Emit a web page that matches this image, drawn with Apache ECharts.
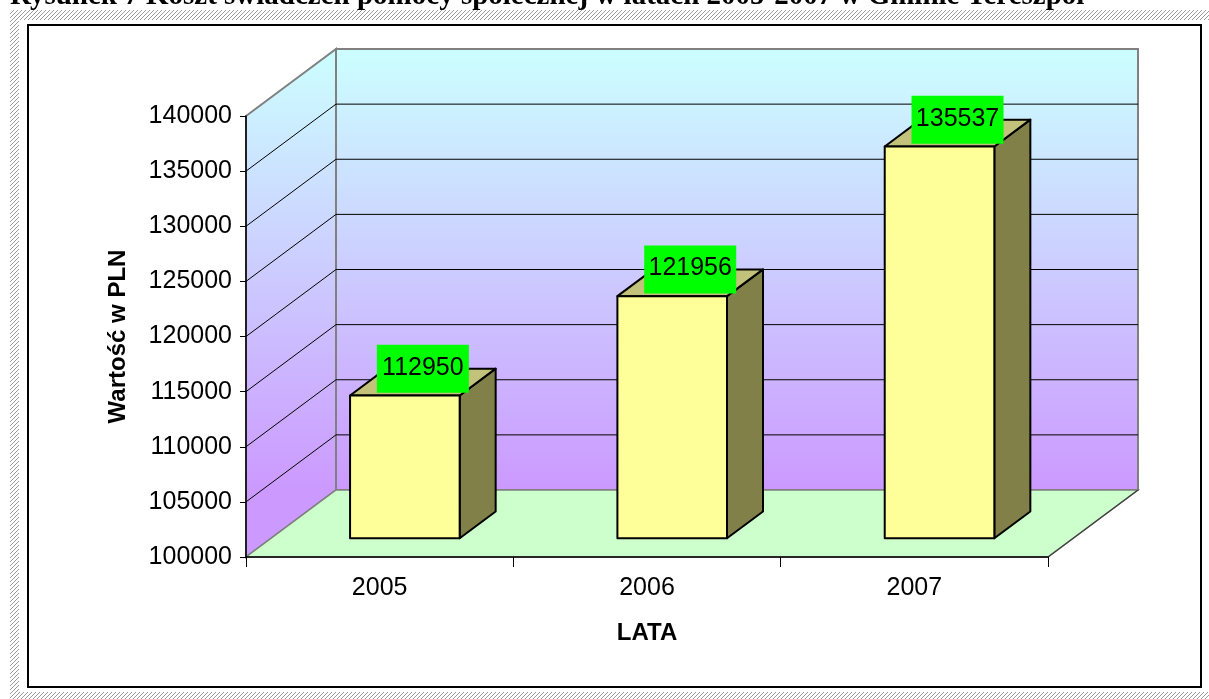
<!DOCTYPE html>
<html>
<head>
<meta charset="utf-8">
<script src="https://cdn.jsdelivr.net/npm/echarts@6/dist/echarts.min.js"></script>
<style>
html, body { margin: 0; padding: 0; background: #fff; }
#main { width: 1209px; height: 699px; }
</style>
</head>
<body>
<div id="main"></div>
<script>
// dane
var lata = ["2005", "2006", "2007"];
var wartosci = [112950, 121956, 135537];
var yMin = 100000, yMax = 140000, yKrok = 5000;
var tytul = "Rysunek 7 Koszt świadczeń pomocy społecznej w latach 2005-2007 w Gminie Tereszpol";

// wyglad 3D
var GLEB = [90, -67];          // przesuniecie tylnej sciany
var BAR_OD = 0.28;             // polozenie przedniej sciany slupka (czesc glebi)
var BAR_GL = 0.4;              // glebokosc slupka (czesc glebi)
var FONT = "Liberation Sans, Arial, sans-serif";

var myChart = echarts.init(document.getElementById("main"));

// wzor kreskowania ramki
var wzor = document.createElement("canvas");
wzor.width = 4; wzor.height = 4;
var c = wzor.getContext("2d");
c.fillStyle = "#fff"; c.fillRect(0, 0, 4, 4);
c.fillStyle = "#9a9a9a";
c.fillRect(3, 0, 1, 1); c.fillRect(2, 1, 1, 1); c.fillRect(1, 2, 1, 1); c.fillRect(0, 3, 1, 1);

function renderSciany(params, api) {
  var cs = params.coordSys;
  var x0 = cs.x, x1 = cs.x + cs.width, yt = cs.y, y0 = cs.y + cs.height;
  var dx = GLEB[0], dy = GLEB[1];
  var grad = new echarts.graphic.LinearGradient(0, 0, 0, 1, [
    { offset: 0, color: "#ccffff" },
    { offset: 1, color: "#cc99ff" }
  ]);
  var grad2 = new echarts.graphic.LinearGradient(0, 0, 0, 1, [
    { offset: 0, color: "#ccffff" },
    { offset: 0.87, color: "#cc99ff" },
    { offset: 1, color: "#cc99ff" }
  ]);
  var ch = [];
  // tylna sciana
  ch.push({ type: "polygon", shape: { points: [[x0 + dx, yt + dy], [x1 + dx, yt + dy], [x1 + dx, y0 + dy], [x0 + dx, y0 + dy]] },
    style: { fill: grad, stroke: "#808080", lineWidth: 2 } });
  // boczna sciana
  ch.push({ type: "polygon", shape: { points: [[x0, yt], [x0 + dx, yt + dy], [x0 + dx, y0 + dy], [x0, y0]] },
    style: { fill: grad2, stroke: "#808080", lineWidth: 2 } });
  // podloga
  ch.push({ type: "polygon", shape: { points: [[x0, y0], [x0 + dx, y0 + dy], [x1 + dx, y0 + dy], [x1, y0]] },
    style: { fill: "#ccffcc", stroke: "#808080", lineWidth: 1.5 } });
  ch.push({ type: "line", shape: { x1: x1, y1: y0, x2: x1 + dx, y2: y0 + dy }, style: { stroke: "#404040", lineWidth: 1.2 } });
  // linie siatki
  for (var v = yMin + yKrok; v < yMax; v += yKrok) {
    var y = api.coord([0, v])[1];
    ch.push({ type: "line", shape: { x1: x0, y1: y, x2: x0 + dx, y2: y + dy }, style: { stroke: "#000", lineWidth: 1 } });
    ch.push({ type: "line", shape: { x1: x0 + dx, y1: y + dy, x2: x1 + dx, y2: y + dy }, style: { stroke: "#000", lineWidth: 1 } });
  }
  return { type: "group", children: ch };
}

function renderSlupek(params, api) {
  var i = api.value(0), v = api.value(1);
  var top = api.coord([i, v]), base = api.coord([i, yMin]);
  var band = api.size([1, 0])[0];
  var w = band * 0.41;
  var ox = GLEB[0] * BAR_OD, oy = GLEB[1] * BAR_OD;
  var gx = GLEB[0] * BAR_GL, gy = GLEB[1] * BAR_GL;
  var xl = top[0] - w / 2 + ox, xr = xl + w, yt = top[1] + oy, yb = base[1] + oy;
  var st = { stroke: "#000", lineWidth: 2, lineJoin: "round" };
  var lx = xl + w / 2 + gx / 2, ly = yt + gy;
  return {
    type: "group",
    children: [
      { type: "polygon", shape: { points: [[xr, yt], [xr + gx, yt + gy], [xr + gx, yb + gy], [xr, yb]] },
        style: Object.assign({ fill: "#808048" }, st) },
      { type: "polygon", shape: { points: [[xl, yt], [xl + gx, yt + gy], [xr + gx, yt + gy], [xr, yt]] },
        style: Object.assign({ fill: "#c2c27a" }, st) },
      { type: "rect", shape: { x: xl, y: yt, width: w, height: yb - yt },
        style: Object.assign({ fill: "#ffff99" }, st) },
      { type: "rect", shape: { x: lx - 46, y: ly - 24, width: 92, height: 48 },
        style: { fill: "#00ff00" } },
      { type: "text", x: lx, y: ly - 1,
        style: { text: String(v), fill: "#000", font: "25px " + FONT, align: "center", verticalAlign: "middle" } }
    ]
  };
}

var option = {
  animation: false,
  backgroundColor: "#fff",
  grid: { left: 246, top: 116, width: 802, height: 441, containLabel: false },
  xAxis: {
    type: "category",
    data: lata,
    z: 5,
    axisLine: { show: true, lineStyle: { color: "#000", width: 1.5 } },
    axisTick: { show: true, length: 10, lineStyle: { color: "#000", width: 1 } },
    axisLabel: { color: "#000", fontSize: 25, fontFamily: FONT, margin: 19 },
    name: "LATA",
    nameLocation: "middle",
    nameGap: 64,
    nameTextStyle: { color: "#000", fontSize: 24, fontWeight: "bold", fontFamily: FONT }
  },
  yAxis: {
    type: "value",
    min: yMin,
    max: yMax,
    interval: yKrok,
    z: 5,
    splitLine: { show: false },
    axisLine: { show: true, lineStyle: { color: "#000", width: 1.5 } },
    axisTick: { show: true, length: 6, lineStyle: { color: "#000", width: 1 } },
    axisLabel: { color: "#000", fontSize: 25, fontFamily: FONT, margin: 14,
      formatter: function (v) { return String(v); } },
    name: "Wartość w PLN",
    nameLocation: "middle",
    nameGap: 116,
    nameTextStyle: { color: "#000", fontSize: 24, fontWeight: "bold", fontFamily: FONT }
  },
  graphic: [
    { type: "rect", silent: true, z: -10, shape: { x: 10, y: 10, width: 1199, height: 10 }, style: { fill: { image: wzor, repeat: "repeat" } } },
    { type: "rect", silent: true, z: -10, shape: { x: 10, y: 10, width: 9, height: 689 }, style: { fill: { image: wzor, repeat: "repeat" } } },
    { type: "rect", silent: true, z: -10, shape: { x: 10, y: 692, width: 1199, height: 7 }, style: { fill: { image: wzor, repeat: "repeat" } } },
    { type: "rect", silent: true, z: -9, shape: { x: 28, y: 25, width: 1173, height: 662 }, style: { fill: "#fff", stroke: "#000", lineWidth: 2 } },
    { type: "text", silent: true, z: -8, x: 10, y: 11,
      style: { text: tytul, fill: "#000", font: "bold 29px Liberation Serif, Times New Roman, serif", align: "left", verticalAlign: "bottom" } }
  ],
  series: [
    {
      type: "custom",
      name: "sciany",
      z: 1,
      silent: true,
      renderItem: renderSciany,
      data: [[0, yMin]]
    },
    {
      type: "custom",
      name: "Wartość",
      z: 3,
      renderItem: renderSlupek,
      data: wartosci.map(function (v, i) { return [i, v]; })
    }
  ]
};

myChart.setOption(option);
</script>
</body>
</html>
